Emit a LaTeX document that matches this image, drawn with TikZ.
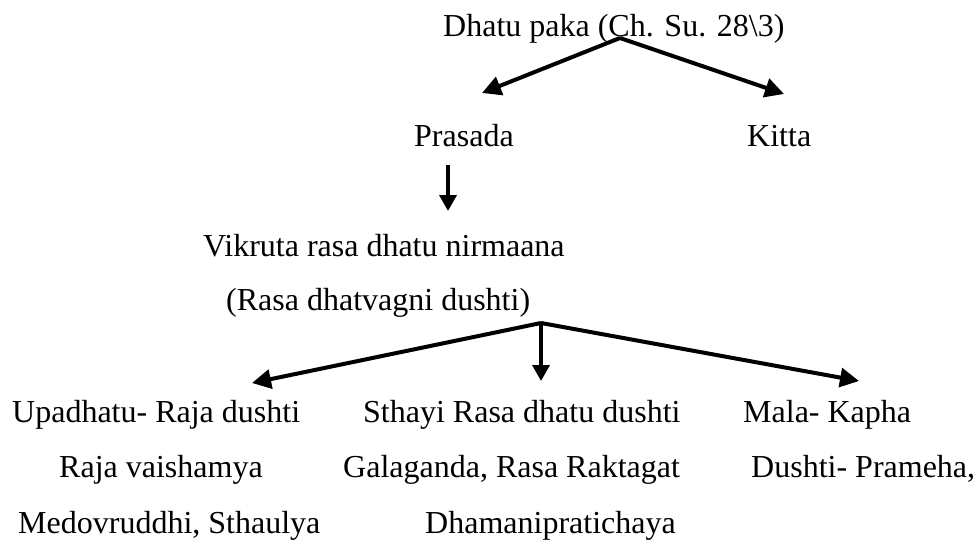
\documentclass[tikz,border=0pt]{standalone}
\usepackage{fontspec}
\setmainfont{Liberation Serif}
\usetikzlibrary{arrows.meta}
\begin{document}
\begin{tikzpicture}[x=1pt,y=-1pt,
  txt/.style={anchor=base west,inner sep=0pt,font=\fontsize{32}{38}\selectfont},
  arr/.style={line width=4pt,-{Triangle[length=19pt,width=19pt]}},
  varr/.style={line width=3.6pt,-{Triangle[length=16pt,width=17pt]}}]
\useasboundingbox (0,0) rectangle (976,541);
\node[txt] (dhatu) at (443,36) {Dhatu paka (Ch. Su. 28\textbackslash 3)};
\node[txt] (prasada) at (414,146) {Prasada};
\node[txt] (kitta) at (747,146) {Kitta};
\node[txt] (vikruta) at (203,256) {Vikruta rasa dhatu nirmaana};
\node[txt] (rasa) at (226,310) {(Rasa dhatvagni dushti)};
\node[txt] (upa) at (12,422) {Upadhatu- Raja dushti};
\node[txt] (raja) at (59,477) {Raja vaishamya};
\node[txt] (medo) at (18,533) {Medovruddhi, Sthaulya};
\node[txt] (sthayi) at (363,422) {Sthayi Rasa dhatu dushti};
\node[txt] (gala) at (343,477) {Galaganda, Rasa Raktagat};
\node[txt] (dham) at (425,533) {Dhamanipratichaya};
\node[txt] (mala) at (743,422) {Mala- Kapha};
\node[txt] (dushti) at (751,477) {Dushti- Prameha,};
\coordinate (topfork) at (620,38);
\coordinate (prasadain) at (482,93);
\coordinate (kittain) at (784,94);
\coordinate (prasadaout) at (448,165);
\coordinate (vikrutain) at (448,211);
\coordinate (botfork) at (541,323);
\coordinate (upain) at (252,383);
\coordinate (sthayiin) at (541,381);
\coordinate (malain) at (859,381);
\draw[arr] (topfork) -- (prasadain);
\draw[arr] (topfork) -- (kittain);
\draw[varr] (prasadaout) -- (vikrutain);
\draw[arr] (botfork) -- (upain);
\draw[varr] (botfork) -- (sthayiin);
\draw[arr] (botfork) -- (malain);
\end{tikzpicture}
\end{document}
